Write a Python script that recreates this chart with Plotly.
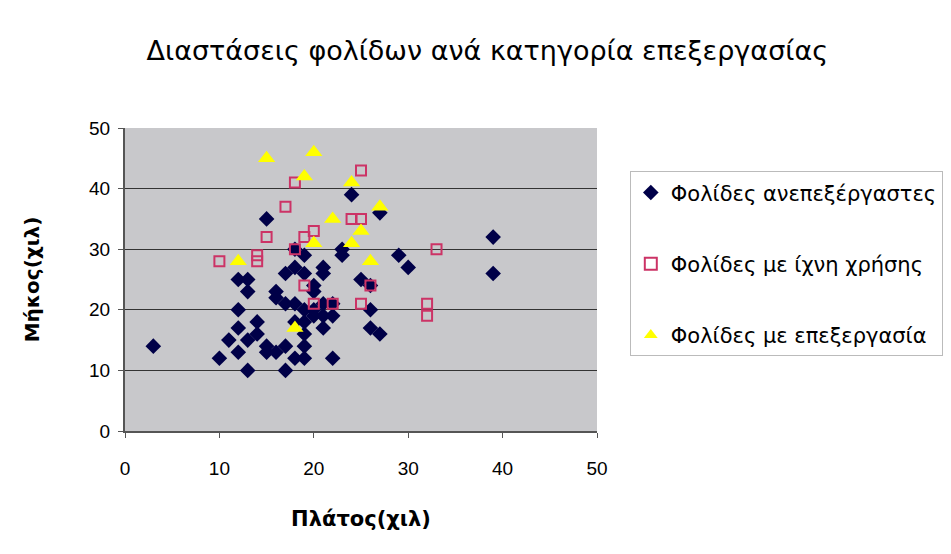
import plotly.graph_objects as go

# Φολίδες ανεπεξέργαστες
raw_x = [3, 10, 11, 12, 12, 12, 12, 13, 13, 13, 13, 14, 14, 15, 15, 15, 16, 16, 16,
         17, 17, 17, 17, 18, 18, 18, 18, 18, 19, 19, 19, 19, 19, 19, 19, 20, 20, 20,
         20, 21, 21, 21, 21, 21, 22, 22, 22, 23, 23, 24, 25, 26, 26, 26, 27, 27, 29,
         30, 39, 39]
raw_y = [14, 12, 15, 13, 17, 20, 25, 25, 23, 15, 10, 18, 16, 14, 13, 35, 23, 22, 13,
         14, 10, 21, 26, 12, 21, 27, 30, 18, 29, 26, 16, 14, 12, 20, 18, 24, 23, 19,
         20, 27, 26, 19, 17, 21, 19, 12, 21, 30, 29, 39, 25, 24, 20, 17, 16, 36, 29,
         27, 32, 26]

# Φολίδες με ίχνη χρήσης
used_x = [10, 14, 14, 15, 17, 18, 25, 24, 25, 20, 19, 18, 19, 20, 22, 25, 26, 33, 32, 32]
used_y = [28, 28, 29, 32, 37, 41, 43, 35, 35, 33, 32, 30, 24, 21, 21, 21, 24, 30, 21, 19]

# Φολίδες με επεξεργασία
proc_x = [15, 20, 19, 24, 22, 27, 25, 20, 24, 12, 26, 18]
proc_y = [45, 46, 42, 41, 35, 37, 33, 31, 31, 28, 28, 17]

names = ["Φολίδες ανεπεξέργαστες", "Φολίδες με ίχνη χρήσης", "Φολίδες με επεξεργασία"]
x_ticks = [0, 10, 20, 30, 40, 50]
y_ticks = [0, 10, 20, 30, 40, 50]

FONT = "Liberation Sans, Arial, sans-serif"
WIDE = "DejaVu Sans, Verdana, sans-serif"

fig = go.Figure()
fig.add_trace(go.Scatter(
    x=raw_x, y=raw_y, mode="markers", name=names[0], legendgroup="a",
    marker=dict(symbol="diamond", size=12, color="#000048",
                line=dict(width=0))))
fig.add_trace(go.Scatter(
    x=used_x, y=used_y, mode="markers", name=names[1], legendgroup="b",
    marker=dict(symbol="square-open", size=10, color="#cc3366",
                line=dict(width=2, color="#cc3366"))))
fig.add_trace(go.Scatter(
    x=proc_x, y=proc_y, mode="markers", name=names[2], legendgroup="c",
    marker=dict(symbol="triangle-up", size=15, color="#ffff00",
                line=dict(width=0))))

fig.update_layout(
    width=951, height=554,
    paper_bgcolor="white", plot_bgcolor="#c8c8cb",
    margin=dict(l=117, r=362, t=120, b=131, autoexpand=False),
    font=dict(family=FONT, size=17, color="black"),
    title=dict(text="Διαστάσεις φολίδων ανά κατηγορία επεξεργασίας",
               x=0.504, xanchor="center", y=0.924, yanchor="middle",
               font=dict(family=WIDE, size=27, color="black")),
    xaxis=dict(range=[0, 50], tickvals=x_ticks, ticktext=[str(v) for v in x_ticks],
               showgrid=False, zeroline=False, showline=True, linecolor="#555555",
               linewidth=2, ticks="outside", ticklen=5, tickcolor="#555555",
               tickfont=dict(size=19), ticklabelstandoff=14,
               title=dict(text="<b>Πλάτος(χιλ)</b>",
                          font=dict(family=WIDE, size=21), standoff=34)),
    yaxis=dict(range=[0, 50], tickvals=y_ticks, ticktext=[str(v) for v in y_ticks],
               showgrid=True, gridcolor="#333333", gridwidth=1, zeroline=False,
               showline=True, linecolor="#555555", linewidth=2, ticks="outside",
               ticklen=5, tickcolor="#555555", tickfont=dict(size=19),
               ticklabelstandoff=4,
               title=dict(text="<b>Μήκος(χιλ)</b>",
                          font=dict(family=WIDE, size=20), standoff=44)),
    legend=dict(x=1.0695, xanchor="left", y=0.857, yanchor="top",
                bgcolor="white", bordercolor="#bbbbbb", borderwidth=1,
                font=dict(family=WIDE, size=21), tracegroupgap=41,
                itemwidth=30, itemsizing="constant"),
    showlegend=True,
)

fig.write_html("out.html")
